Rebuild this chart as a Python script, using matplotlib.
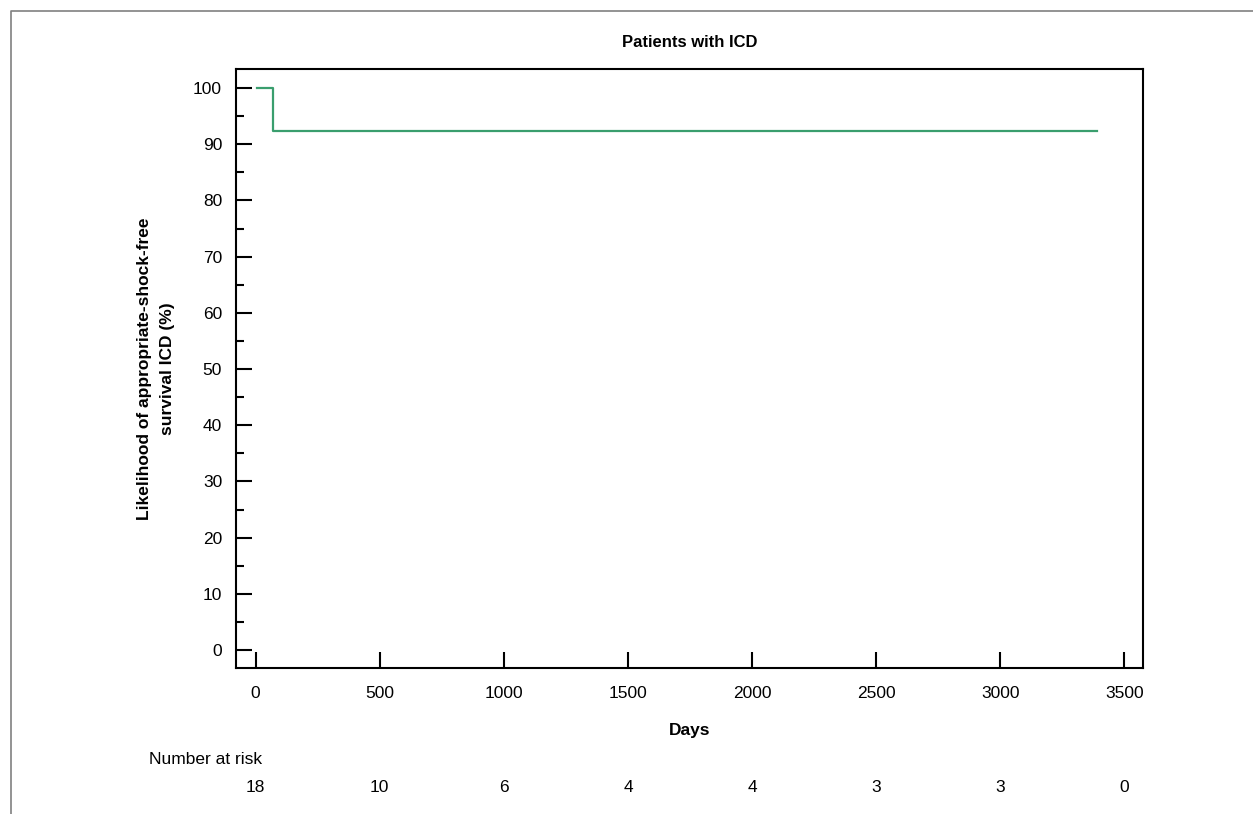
import numpy as np
import matplotlib
matplotlib.use("Agg")
import matplotlib.pyplot as plt
from matplotlib.lines import Line2D
from matplotlib.transforms import blended_transform_factory

plt.rcParams['font.family'] = ['Liberation Sans', 'DejaVu Sans']

# survival curve (days, %)
days = [5, 70, 70, 3390]
survival = [100, 100, 92.3, 92.3]

# number at risk table
risk_days = [0, 500, 1000, 1500, 2000, 2500, 3000, 3500]
at_risk = [18, 10, 6, 4, 4, 3, 3, 0]

W, H = 1253, 814
fig = plt.figure(figsize=(W / 100, H / 100), dpi=100)
ax = fig.add_axes([236 / W, 1 - 668 / H, (1143 - 236) / W, (668 - 69) / H])

ax.plot(days, survival, color='#3a9e6e', lw=1.6)

ax.set_xlim(-79, 3575)
ax.set_ylim(-3.2, 103.4)
ax.set_xticks(np.arange(0, 3501, 500))
ax.set_yticks(np.arange(0, 101, 10))
ax.set_yticks(np.arange(5, 100, 10), minor=True)
ax.tick_params(axis='both', which='major', direction='in', length=11.5, width=1.5,
               labelsize=12.5, pad=10)
ax.tick_params(axis='y', which='minor', direction='in', length=6, width=1.5)
ax.tick_params(axis='x', pad=13)
for s in ax.spines.values():
    s.set_linewidth(1.5)

ax.set_title('Patients with ICD', fontsize=12, fontweight='bold', pad=16)
ax.set_xlabel('Days', fontsize=12.5, fontweight='bold', labelpad=16)
ax.set_ylabel('Likelihood of appropriate-shock-free\nsurvival ICD (%)', fontsize=12.5,
              fontweight='bold', labelpad=13, linespacing=1.65)

# number at risk
tr = blended_transform_factory(ax.transData, fig.transFigure)
fig.text(149 / W, 1 - 759 / H, 'Number at risk', fontsize=12.5, ha='left', va='center')
for d, n in zip(risk_days, at_risk):
    ax.text(d, 1 - 788 / H, str(n), transform=tr, fontsize=12.5, ha='center', va='center',
            clip_on=False)

# outer frame (top and left edges)
fig.add_artist(Line2D([11 / W, 11 / W, 1], [0, 1 - 11 / H, 1 - 11 / H],
                      transform=fig.transFigure, color='#808080', lw=1.2))

fig.savefig('out.png', dpi=100)
